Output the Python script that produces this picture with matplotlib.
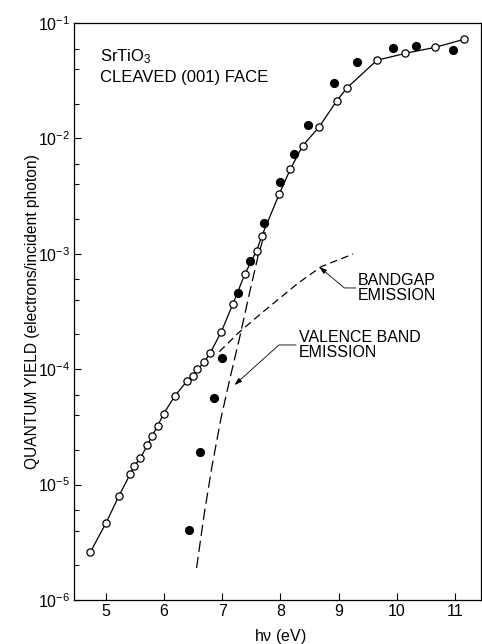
import numpy as np
import matplotlib
matplotlib.use("Agg")
import matplotlib.pyplot as plt
import matplotlib.ticker as mticker

# Quantum yield of cleaved SrTiO3 (001) face
E_OPEN = [4.73, 5.00, 5.22, 5.42, 5.49, 5.59, 5.71, 5.79, 5.89, 5.99, 6.18,
          6.39, 6.49, 6.57, 6.69, 6.79, 6.98, 7.18, 7.39, 7.59, 7.68, 7.98,
          8.17, 8.38, 8.67, 8.97, 9.15, 9.66, 10.15, 10.66, 11.16]
LOGQ_OPEN = [-5.587, -5.333, -5.101, -4.905, -4.836, -4.772, -4.660, -4.582,
             -4.489, -4.388, -4.235, -4.105, -4.056, -4.001, -3.938, -3.862,
             -3.680, -3.438, -3.175, -2.973, -2.846, -2.482, -2.268, -2.066,
             -1.898, -1.673, -1.560, -1.323, -1.263, -1.211, -1.141]

E_FILLED = [6.42, 6.62, 6.85, 6.99, 7.27, 7.47, 7.71, 7.99, 8.24, 8.48, 8.93,
            9.32, 9.93, 10.34, 10.97]
LOGQ_FILLED = [-5.396, -4.718, -4.247, -3.903, -3.342, -3.060, -2.730, -2.380,
               -2.138, -1.881, -1.523, -1.335, -1.214, -1.199, -1.234]

# dashed model curves
E_VALENCE = [6.558, 6.687, 6.824, 6.979, 7.134, 7.289, 7.461, 7.616, 7.737]
LOGQ_VALENCE = [-5.723, -5.263, -4.839, -4.423, -4.076, -3.747, -3.357, -3.019, -2.811]

E_BANDGAP = [6.95, 7.27, 7.67, 8.30, 8.70, 9.25]
LOGQ_BANDGAP = [-3.848, -3.689, -3.516, -3.256, -3.112, -3.002]

YTICKS = [1e-6, 1e-5, 1e-4, 1e-3, 1e-2, 1e-1]
YTICK_LABELS = [r"$10^{-6}$", r"$10^{-5}$", r"$10^{-4}$", r"$10^{-3}$",
                r"$10^{-2}$", r"$10^{-1}$"]
XTICKS = [5, 6, 7, 8, 9, 10, 11]


def q(logs):
    return 10.0 ** np.asarray(logs)


plt.rcParams.update({
    "font.family": ["Liberation Sans", "DejaVu Sans"],
    "mathtext.default": "regular",
    "axes.linewidth": 0.9,
})

fig = plt.figure(figsize=(4.82, 6.44), dpi=100)
ax = fig.add_axes([74 / 482, 1 - 600 / 644, 407 / 482, 577 / 644])

ax.plot(E_OPEN, q(LOGQ_OPEN), "-", color="black", lw=0.9, zorder=2)
ax.plot(E_OPEN, q(LOGQ_OPEN), "o", mfc="white", mec="black", mew=0.9, ms=5.2, zorder=4)
ax.plot(E_FILLED, q(LOGQ_FILLED), "o", color="black", ms=5.6, zorder=4)

ax.plot(E_VALENCE, q(LOGQ_VALENCE), color="black", lw=0.9, dashes=(9, 4), zorder=3)
ax.plot(E_BANDGAP, q(LOGQ_BANDGAP), color="black", lw=0.9, dashes=(6, 3.5), zorder=3)

ax.set_yscale("log")
ax.set_xlim(4.45, 11.45)
ax.set_ylim(1e-6, 1e-1)

ax.set_xticks(XTICKS)
ax.set_xticklabels([str(v) for v in XTICKS])
ax.set_yticks(YTICKS)
ax.set_yticklabels(YTICK_LABELS)
ax.yaxis.set_minor_locator(mticker.LogLocator(base=10, subs=(2, 4, 6)))
ax.yaxis.set_minor_formatter(mticker.NullFormatter())
ax.tick_params(axis="both", which="major", direction="in", length=5, width=0.8,
               labelsize=11.5, pad=3)
ax.tick_params(axis="y", which="minor", direction="in", length=3.5, width=0.8)
ax.tick_params(top=False, right=False)

ax.set_xlabel(r"h$\nu$ (eV)", fontsize=11.5)
ax.xaxis.set_label_coords(0.506, -0.046)
ax.set_ylabel("QUANTUM YIELD (electrons/incident photon)", fontsize=11.2)
ax.yaxis.set_label_coords(-0.084, 0.5)

ax.text(0.064, 0.958, r"SrTiO$_3$", transform=ax.transAxes, fontsize=12,
        ha="left", va="top")
ax.text(0.064, 0.918, "CLEAVED (001) FACE", transform=ax.transAxes, fontsize=12,
        ha="left", va="top")

arrow = dict(arrowstyle="-|>,head_length=0.45,head_width=0.15", color="black",
             lw=0.6, shrinkA=0, shrinkB=0)

ax.annotate("", xy=(8.67, 10 ** -3.114), xytext=(9.30, 10 ** -3.296),
            arrowprops=dict(arrow, connectionstyle="angle,angleA=0,angleB=-40,rad=0"))
ax.text(9.33, 10 ** -3.296, "BANDGAP\nEMISSION", fontsize=11.5, ha="left",
        va="center", linespacing=1.0)

ax.annotate("", xy=(7.21, 10 ** -4.137), xytext=(8.27, 10 ** -3.79),
            arrowprops=dict(arrow, connectionstyle="angle,angleA=0,angleB=42,rad=0"))
ax.text(8.32, 10 ** -3.79, "VALENCE BAND\nEMISSION", fontsize=11.5, ha="left",
        va="center", linespacing=1.0)

fig.savefig("out.png", dpi=100, facecolor="white")
